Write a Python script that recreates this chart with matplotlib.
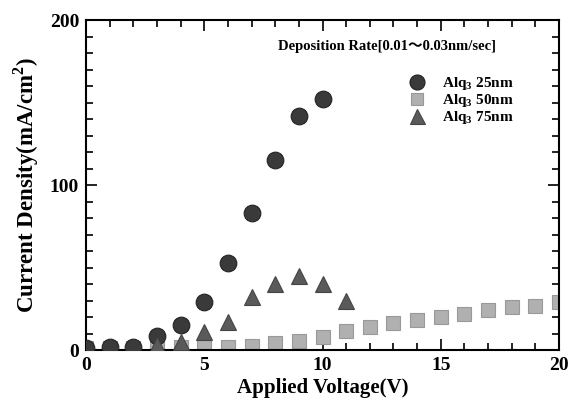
import matplotlib
matplotlib.use("Agg")
import matplotlib.pyplot as plt
from matplotlib.ticker import MultipleLocator

# data
v25 = [0, 1, 2, 3, 4, 5, 6, 7, 8, 9, 10]
j25 = [1, 2, 2, 8.5, 15, 29, 53, 83, 115, 142, 152]

v50 = [0, 1, 2, 3, 4, 5, 6, 7, 8, 9, 10, 11, 12, 13, 14, 15, 16, 17, 18, 19, 20]
j50 = [1, 1, 1, 2, 2, 2, 2, 2.5, 4, 5.5, 8, 11.5, 14, 16.5, 18, 20, 22, 24, 26, 26.5, 29]

v75 = [3, 4, 5, 6, 7, 8, 9, 10, 11]
j75 = [3, 5, 11, 17, 32, 40, 45, 40, 30]

labels = ["Alq$_3$ 25nm", "Alq$_3$ 50nm", "Alq$_3$ 75nm"]

serif = ["Liberation Serif", "Noto Sans CJK JP", "DejaVu Serif"]
plt.rcParams["font.family"] = serif
plt.rcParams["font.weight"] = "bold"
plt.rcParams["mathtext.fontset"] = "custom"
plt.rcParams["mathtext.rm"] = "Liberation Serif:bold"

fig = plt.figure(figsize=(5.75, 3.98), dpi=100)
ax = fig.add_axes([0.1496, 0.1206, 0.8226, 0.8291])

ax.plot(v50, j50, "s", ms=10, color="#b0b0b0", mec="#999999", mew=0.8, label=labels[1], zorder=2)
ax.plot(v25, j25, "o", ms=12, color="#3a3a3a", mec="#222222", mew=0.8, label=labels[0], zorder=3)
ax.plot(v75, j75, "^", ms=12, color="#5a5a5a", mec="#444444", mew=0.8, label=labels[2], zorder=4)

ax.set_xlim(0, 20)
ax.set_ylim(0, 200)
ax.xaxis.set_major_locator(MultipleLocator(5))
ax.xaxis.set_minor_locator(MultipleLocator(1))
ax.yaxis.set_major_locator(MultipleLocator(100))
ax.yaxis.set_minor_locator(MultipleLocator(10))
ax.tick_params(which="both", direction="in", top=True, right=True, width=1.2)
ax.tick_params(which="major", length=8, labelsize=14, pad=5)
ax.tick_params(which="minor", length=5)
for s in ax.spines.values():
    s.set_linewidth(1.5)
for t in ax.get_xticklabels() + ax.get_yticklabels():
    t.set_fontweight("bold")

ax.set_xlabel("Applied Voltage(V)", fontsize=15, fontweight="bold", labelpad=3)
ax.set_ylabel("Current Density(mA/cm$^2$)", fontsize=16.5, fontweight="bold", labelpad=6)

ax.text(0.405, 0.92, "Deposition Rate[0.01～0.03nm/sec]", transform=ax.transAxes,
        fontsize=10.5, fontweight="bold", family=serif, va="center")

h, l = ax.get_legend_handles_labels()
order = [1, 0, 2]
ax.legend([h[i] for i in order], [l[i] for i in order], loc="upper left",
          bbox_to_anchor=(0.645, 0.865), frameon=False, fontsize=11,
          handletextpad=0.6, labelspacing=0.0, borderpad=0.2, markerscale=0.9)

fig.savefig("out.png", dpi=100)
